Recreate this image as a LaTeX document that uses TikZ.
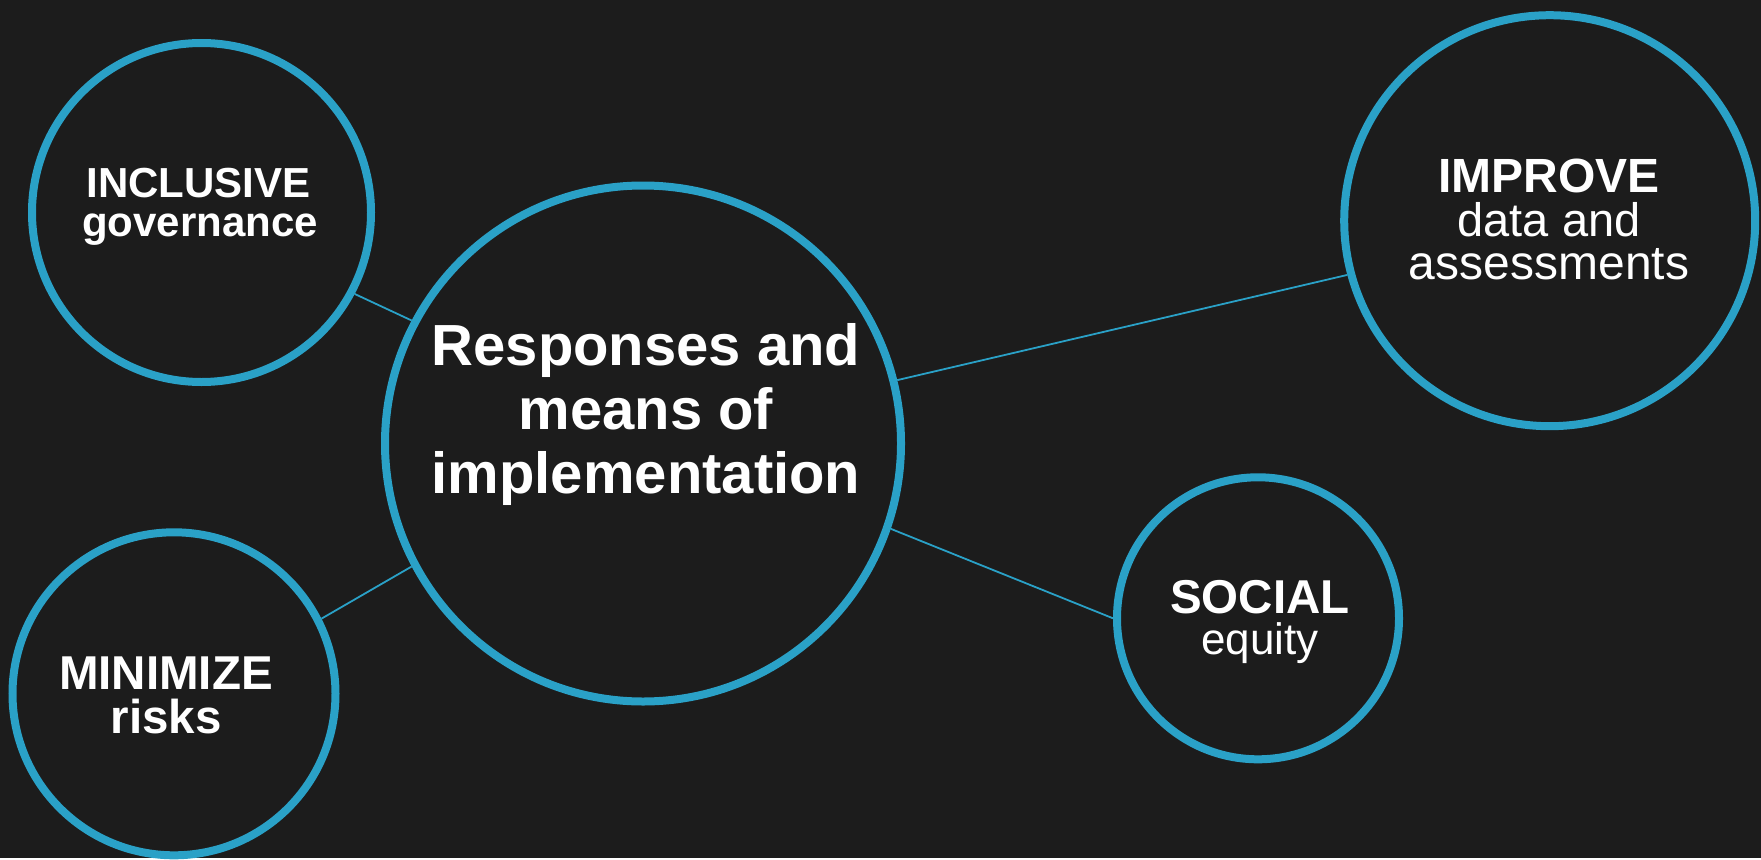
\documentclass[tikz,border=0pt]{standalone}
\usepackage{fontspec}
\setmainfont{Liberation Sans}
\definecolor{bgcol}{HTML}{1C1C1C}
\definecolor{ringblue}{HTML}{2AA1C7}
\begin{document}
\begin{tikzpicture}[x=1pt,y=-1pt,
  ring/.style={circle, draw=ringblue, line width=8pt, fill=bgcol,
    inner sep=0pt, minimum size=#1},
  link/.style={draw=ringblue, line width=1.8pt},
  lbl/.style={text=white, inner sep=0pt, anchor=base},
  bold/.style={lbl, font=\bfseries\fontsize{#1}{#1}\selectfont},
  plain/.style={lbl, font=\fontsize{#1}{#1}\selectfont}]

% page background
\fill[bgcol] (0,0) rectangle (1761,858);

% rings
\node[ring=516pt] (main)    at (643,443.5)  {};
\node[ring=339pt] (incl)    at (201.5,212.5) {};
\node[ring=411pt] (improve) at (1549.7,220.7) {};
\node[ring=323pt] (minz)    at (174,693.8)  {};
\node[ring=282pt] (social)  at (1258,618.3) {};

% connectors between the rings
\draw[link] (incl.-28)  -- (main.152.6);
\draw[link] (minz.27.5) -- (main.208);
\draw[link] (main.14.8) -- (improve.195.8);
\draw[link] (main.-19.7) -- (social.180);

% centre label
\node[bold=58] (mainA) at (646,365) {Responses and};
\node[bold=58] (mainB) at (646,429) {means of};
\node[bold=58] (mainC) at (646,493) {implementation};

% inclusive governance
\node[bold=42] (inclA) at (198.5,197) {INCLUSIVE};
\node[bold=42] (inclB) at (200,236) {governance};

% improve data and assessments
\node[bold=48]  (impA) at (1549,192.7) {IMPROVE};
\node[plain=47] (impB) at (1549,236.7) {data and};
\node[plain=48] (impC) at (1549,279.3) {assessments};

% social equity
\node[bold=47.5] (socA) at (1260,613.3) {SOCIAL};
\node[plain=44]  (socB) at (1260,654) {equity};

% minimize risks
\node[bold=47.5] (minA) at (166,689.3) {MINIMIZE};
\node[bold=47.5] (minB) at (166,733.3) {risks};
\end{tikzpicture}
\end{document}
